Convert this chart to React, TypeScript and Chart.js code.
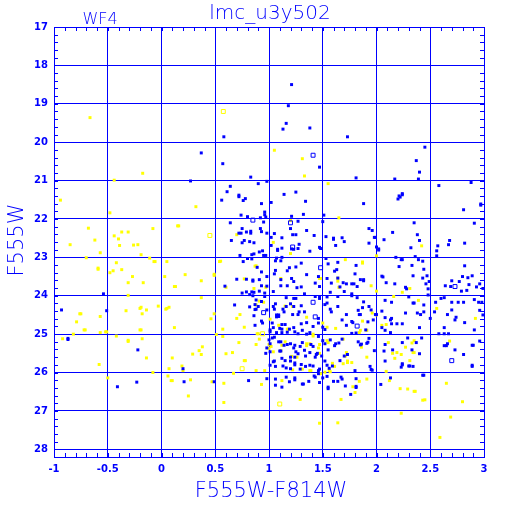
import { useEffect, useRef } from 'react';
import { Chart, registerables } from 'chart.js';

Chart.register(...registerables);

const X_MIN = -1;
const X_MAX = 3;
const Y_MIN = 17;
const Y_MAX = 28.2;
const X_TICKS = [-1, -0.5, 0, 0.5, 1, 1.5, 2, 2.5, 3];
const X_TICK_LABELS = ['-1', '-0.5', '0', '0.5', '1', '1.5', '2', '2.5', '3'];
const Y_TICKS = [17, 18, 19, 20, 21, 22, 23, 24, 25, 26, 27, 28];
const Y_TICK_LABELS = ['17', '18', '19', '20', '21', '22', '23', '24', '25', '26', '27', '28'];
const X_MINOR_STEP = 0.1;
const Y_MINOR_STEP = 0.2;
const TITLE = 'lmc_u3y502';
const CHIP = 'WF4';
const X_TITLE = 'F555W-F814W';
const Y_TITLE = 'F555W';

const bluePoints: [number, number][] = [
  [1.21, 18.5], [1.18, 19.05], [1.16, 19.51], [1.13, 19.66], [1.38, 19.63], [0.58, 19.86], [1.73, 19.86], [0.37, 20.28],
  [0.57, 20.56], [1.47, 20.65], [2.45, 20.13], [2.37, 20.48], [2.4, 20.78], [2.39, 20.96], [2.17, 20.96], [1.81, 20.93],
  [0.83, 20.91], [0.27, 21.01],
  [0.64, 21.15], [0.9, 21.08], [0.98, 21.02], [0.61, 21.29], [0.72, 21.38], [0.72, 21.42], [0.78, 21.47], [0.76, 21.52],
  [0.56, 21.51], [0.93, 21.6], [1.02, 21.57], [1.14, 21.36], [1.25, 21.3], [1.34, 21.54], [0.96, 21.82], [0.96, 21.89],
  [0.97, 21.95], [0.92, 21.97], [0.74, 21.9], [0.8, 21.94], [0.64, 22.1], [0.95, 22.08], [1.21, 21.93], [1.27, 22.06],
  [1.32, 21.88], [1.51, 21.9], [1.5, 22.07], [0.75, 22.25], [0.72, 22.37], [0.74, 22.37], [0.79, 22.34], [0.83, 22.32],
  [0.83, 22.37], [0.92, 22.25], [0.93, 22.33], [0.98, 22.37], [0.65, 22.56], [0.77, 22.56], [0.75, 22.62], [0.82, 22.59],
  [0.86, 22.62], [1.05, 22.38], [1.12, 22.49], [1.2, 22.25], [1.25, 22.41], [1.22, 22.41], [1.35, 22.3], [1.42, 22.43],
  [1.53, 22.46], [1.6, 22.5], [1.6, 22.53], [1.7, 22.59], [1.68, 22.49], [1.62, 22.69], [1.47, 22.74], [1.48, 22.77],
  [1.38, 22.84], [1.28, 22.66], [1.27, 22.77], [1.21, 22.78], [1.23, 22.79], [1.12, 22.76], [1.08, 22.79], [1.08, 22.82],
  [1.02, 22.48], [1.02, 22.69], [0.91, 22.86], [0.94, 22.83], [0.84, 22.93], [0.86, 22.91], [0.95, 22.95], [0.97, 22.95],
  [0.73, 22.95], [0.8, 23.03], [0.76, 23.11], [0.84, 23.04], [1.06, 23.09], [1.11, 23.09], [1.07, 23.02], [1.12, 23.0],
  [1.19, 23.27], [1.25, 23.25], [1.3, 23.15], [1.06, 23.34], [1.17, 23.35], [0.89, 23.26], [0.93, 23.38], [0.98, 23.5],
  [0.7, 23.57], [0.79, 23.57], [0.85, 23.59], [0.85, 23.62], [0.91, 23.58], [0.93, 23.74], [0.98, 23.75], [1.05, 23.43],
  [1.11, 23.58], [1.11, 23.74], [1.17, 23.74], [1.21, 23.55], [1.26, 23.79], [1.3, 23.77], [1.23, 23.63], [1.35, 23.45],
  [1.43, 23.67], [1.46, 23.5], [1.47, 23.76], [1.53, 23.03], [1.55, 23.17], [1.64, 23.13], [1.61, 23.36], [1.63, 23.32],
  [1.54, 23.55], [1.64, 23.54], [1.58, 23.67], [1.69, 23.66], [1.72, 23.69], [1.66, 23.77], [0.59, 23.75],
  [1.88, 21.6], [2.21, 21.4], [2.22, 21.43], [2.24, 21.34], [2.24, 21.37], [2.2, 21.48], [2.58, 21.13], [2.88, 21.05],
  [2.97, 21.61], [2.97, 21.64], [2.81, 21.76], [2.91, 22.11], [2.35, 22.1], [2.15, 22.35], [1.93, 22.25], [1.96, 22.3],
  [1.98, 22.48], [1.99, 22.48], [1.93, 22.63], [2.07, 22.54], [2.38, 22.41], [2.4, 22.56], [2.32, 22.75], [2.57, 22.7],
  [2.56, 22.83], [2.56, 22.96], [2.68, 22.56], [2.67, 22.67], [2.82, 22.63], [2.0, 22.73], [2.02, 22.78], [2.02, 22.81],
  [2.18, 23.0], [2.23, 23.06], [2.24, 23.06], [2.36, 22.98], [2.39, 23.06], [2.43, 23.1], [2.33, 23.21], [2.21, 23.24],
  [2.44, 23.31], [2.34, 23.48], [2.47, 23.48], [2.43, 23.54], [2.49, 23.63], [2.46, 23.69], [2.48, 23.82], [2.09, 23.66],
  [2.05, 23.49], [2.06, 23.51], [2.17, 23.69], [2.27, 23.78], [2.28, 23.82], [1.85, 23.58], [1.88, 23.58], [1.88, 23.61],
  [1.81, 23.21], [1.8, 23.43], [1.77, 23.69], [1.79, 23.69], [1.82, 23.76], [2.82, 23.22], [2.89, 23.48], [2.85, 23.53],
  [2.8, 23.5], [2.77, 23.63], [2.7, 23.61], [2.64, 23.74], [2.69, 23.76], [2.86, 23.71], [2.93, 23.77], [2.96, 23.69],
  [2.99, 23.81],
  [0.75, 23.93], [0.79, 23.9], [0.82, 23.97], [0.84, 23.9], [0.85, 24.0], [0.86, 23.91], [0.91, 23.88], [0.96, 23.93],
  [0.96, 24.02], [1.04, 23.89], [1.16, 24.05], [1.23, 24.07], [1.25, 24.07], [1.33, 23.95], [1.43, 24.02], [1.47, 24.02],
  [1.47, 24.07], [1.54, 24.03], [1.57, 23.91], [1.64, 24.02], [1.7, 23.89],
  [0.68, 24.24], [0.82, 24.29], [0.87, 24.23], [0.88, 24.11], [0.88, 24.35], [0.87, 24.36], [0.9, 24.28], [0.93, 24.15],
  [0.98, 24.37], [1.04, 24.28], [1.05, 24.35], [1.06, 24.21], [1.07, 24.5], [1.09, 24.5], [1.07, 24.55], [1.09, 24.54],
  [1.13, 24.35], [1.14, 24.42], [1.16, 24.28], [1.2, 24.21], [1.23, 24.28], [1.22, 24.49], [1.27, 24.49], [1.28, 24.42],
  [1.3, 24.26], [1.33, 24.42], [1.46, 24.59], [1.52, 24.23], [1.54, 24.19], [1.57, 24.35], [1.58, 24.42], [1.64, 24.28],
  [1.68, 24.63], [1.72, 24.77], [1.72, 24.49], [1.46, 24.71], [1.5, 24.82], [1.52, 24.88], [1.41, 24.8], [1.35, 24.7],
  [1.3, 24.73], [1.23, 24.83], [1.19, 24.87], [1.15, 24.75], [1.12, 24.75], [1.1, 24.85], [1.12, 24.87], [1.03, 24.71],
  [0.93, 24.66], [0.94, 24.71], [0.87, 24.77], [0.86, 24.52], [1.01, 24.89], [1.01, 24.94], [1.04, 24.83], [1.07, 24.96],
  [1.12, 24.96], [1.17, 24.95], [1.24, 24.94], [1.27, 24.99], [1.31, 24.9], [1.35, 25.0], [1.38, 24.96],
  [1.0, 25.15], [1.01, 25.25], [0.98, 25.36], [0.97, 25.5], [1.01, 25.46], [1.05, 25.08], [1.03, 25.1], [1.09, 25.2],
  [1.11, 25.2], [1.14, 25.29], [1.1, 25.44], [1.11, 25.44], [1.17, 25.27], [1.2, 25.25], [1.23, 25.36], [1.24, 25.29],
  [1.29, 25.32], [1.31, 25.22], [1.25, 25.46], [1.27, 25.51], [1.24, 25.6], [1.2, 25.6], [1.2, 25.7], [1.12, 25.63],
  [1.15, 25.69], [1.05, 25.7], [1.04, 25.72], [1.01, 25.81], [1.06, 25.84], [1.13, 25.83], [1.16, 25.88], [1.2, 25.9],
  [1.24, 25.8], [1.24, 25.75], [1.3, 25.79], [1.29, 25.91], [1.34, 25.84], [1.38, 25.81], [1.41, 25.83], [1.34, 25.57],
  [1.38, 25.48], [1.33, 25.42], [1.43, 25.6], [1.44, 25.53], [1.45, 25.5], [1.49, 25.57], [1.39, 25.27], [1.41, 25.32],
  [1.46, 25.06], [1.5, 25.17], [1.52, 25.25], [1.57, 25.15], [1.55, 25.41], [1.61, 25.3], [1.62, 25.25], [1.65, 25.23],
  [1.68, 25.13], [1.7, 25.57], [1.73, 25.53], [1.66, 25.69], [1.52, 25.7], [1.54, 25.81], [1.56, 25.89], [1.47, 25.91],
  [1.46, 25.95], [1.59, 25.83],
  [0.81, 26.21], [0.98, 26.16], [1.06, 26.17], [1.06, 26.33], [1.12, 26.38], [1.16, 26.12], [1.19, 26.24], [1.24, 26.14],
  [1.24, 26.19], [1.31, 26.3], [1.32, 26.3], [1.37, 26.23], [1.42, 26.09], [1.43, 26.12], [1.46, 26.03], [1.5, 26.14],
  [1.47, 26.26], [1.54, 26.1], [1.55, 26.38], [1.55, 26.42], [1.6, 26.23], [1.64, 26.23], [1.67, 26.12], [1.68, 26.17],
  [1.71, 26.35],
  [1.82, 24.05], [1.77, 24.0], [1.88, 24.16], [1.93, 24.28], [1.95, 24.37], [1.87, 24.31], [1.83, 24.38], [1.84, 24.49],
  [1.85, 24.49], [1.77, 24.67], [1.78, 24.7], [1.77, 24.98], [1.81, 24.97], [1.9, 24.89], [1.92, 24.68], [1.97, 24.63],
  [1.99, 24.49], [2.0, 24.49], [2.05, 24.4], [2.08, 24.12], [2.14, 24.17], [2.3, 24.03], [2.48, 23.98], [2.34, 24.19],
  [2.35, 24.19], [2.44, 24.24], [2.38, 24.45], [2.41, 24.49], [2.44, 24.42], [2.5, 24.59], [2.55, 24.17], [2.54, 24.42],
  [2.6, 24.07], [2.63, 24.05], [2.7, 24.17], [2.76, 24.17], [2.81, 24.17], [2.66, 24.49], [2.7, 24.37], [2.74, 24.56],
  [2.73, 24.63], [2.82, 24.7], [2.91, 24.1], [2.95, 24.17], [2.98, 24.17], [2.96, 24.38], [2.99, 24.5], [2.91, 24.89],
  [2.63, 24.83], [2.58, 24.99], [2.63, 24.99], [2.67, 24.99], [2.08, 24.57], [2.14, 24.59], [2.13, 24.63], [2.14, 24.73],
  [2.08, 24.9], [2.13, 24.96], [2.05, 24.83], [2.19, 24.73], [2.24, 24.73], [2.27, 24.45], [2.4, 24.83], [1.77, 23.95],
  [2.79, 23.88], [2.84, 23.86],
  [1.91, 25.24], [1.92, 25.21], [1.86, 25.26], [1.85, 25.28], [1.83, 25.2], [1.93, 25.11], [1.98, 25.43], [2.08, 25.27],
  [2.07, 25.44], [2.15, 25.41], [2.24, 25.22], [2.29, 25.1], [2.33, 25.41], [2.37, 25.22], [2.42, 25.1], [2.4, 25.51],
  [2.31, 25.83], [2.34, 25.84], [2.3, 25.83], [2.24, 25.77], [2.24, 25.8], [2.23, 25.86], [2.08, 25.7], [1.94, 25.84],
  [1.95, 25.92], [1.96, 25.94], [1.8, 25.95], [2.63, 25.3], [2.65, 25.3], [2.66, 25.25], [2.73, 25.41], [2.81, 25.53],
  [2.89, 25.29], [2.9, 25.29], [2.96, 25.18], [2.89, 25.81], [2.89, 25.84], [2.43, 26.07], [2.44, 26.07], [2.13, 26.14],
  [2.04, 26.31], [1.81, 26.16], [1.81, 26.36], [1.81, 26.39], [1.76, 26.57],
  [-0.54, 23.95], [-0.93, 24.37], [-0.51, 24.39], [-0.87, 25.11], [-0.87, 25.14], [-0.22, 25.41], [0.2, 25.9],
  [-0.23, 26.25], [0.21, 26.24], [-0.41, 26.37], [0.49, 26.24],
];

const blueHollowPoints: [number, number][] = [
  [1.41, 20.34], [0.85, 22.03], [1.2, 22.1], [1.22, 22.73], [1.48, 23.27], [2.73, 23.76], [0.95, 24.44], [1.41, 24.17],
  [1.43, 24.55], [1.82, 24.79], [2.7, 25.69],
];

const yellowPoints: [number, number][] = [
  [1.05, 20.21], [1.31, 20.43], [1.33, 20.88], [-0.665, 19.36], [-0.175, 20.81], [-0.44, 20.99],
  [-0.94, 21.51], [-0.48, 21.84], [0.32, 21.68], [-0.68, 22.24], [-0.85, 22.67], [-0.62, 22.55], [-0.57, 22.88],
  [-0.44, 22.44], [-0.4, 22.52], [-0.37, 22.34], [-0.31, 22.34], [-0.39, 22.69], [-0.26, 22.68], [-0.22, 22.67],
  [-0.08, 22.25], [-0.19, 22.93], [0.15, 22.18], [0.16, 22.18], [-0.7, 23.01], [-0.42, 23.14], [-0.59, 23.31],
  [-0.59, 23.28], [-0.45, 23.35], [-0.48, 23.4], [-0.37, 23.32], [-0.27, 23.5], [-0.31, 23.66], [-0.17, 23.66],
  [-0.11, 23.02], [-0.07, 23.11], [-0.06, 23.11], [0.05, 23.11], [0.03, 23.5], [0.12, 23.76], [0.13, 23.76],
  [0.22, 23.45], [0.37, 23.61], [0.49, 23.47], [0.49, 23.44], [0.54, 23.11], [-0.31, 23.99], [0.37, 24.05],
  [-0.76, 24.47], [-0.75, 24.47], [-0.79, 24.68], [-0.57, 24.54], [-0.72, 24.89], [-0.71, 24.89], [-0.82, 25.0],
  [-0.92, 25.12], [-0.57, 24.96], [-0.52, 24.94], [-0.51, 24.94], [-0.33, 24.39], [-0.19, 24.3], [-0.2, 24.33],
  [-0.14, 24.37], [-0.18, 24.47], [-0.03, 24.27], [0.05, 24.33], [0.04, 24.35], [0.07, 24.3], [-0.2, 24.89],
  [-0.19, 24.89], [-0.42, 25.05], [-0.31, 25.19], [-0.31, 25.16], [-0.18, 25.12], [0.12, 24.83], [0.49, 24.47],
  [0.46, 24.6], [0.51, 25.01], [0.38, 25.33], [0.35, 25.43], [0.29, 25.52], [0.37, 25.53], [0.1, 25.62],
  [-0.14, 25.62], [-0.58, 25.79], [0.19, 25.83], [0.07, 25.9], [0.2, 25.95], [-0.08, 26.0], [0.06, 26.09],
  [0.09, 26.21], [0.1, 26.21], [0.27, 26.19], [0.47, 26.24], [-0.5, 26.14], [0.25, 26.61],
  [1.55, 21.08], [1.65, 21.97], [0.7, 22.41], [1.04, 22.61], [1.2, 22.9], [1.2, 22.04], [1.71, 23.06], [0.55, 23.1],
  [0.87, 23.23], [0.88, 23.22], [0.77, 23.56], [1.11, 23.55], [1.47, 23.55], [1.48, 23.55], [1.64, 23.54],
  [1.64, 23.62], [0.6, 23.78], [0.86, 23.81], [0.97, 23.78], [1.65, 23.78],
  [2.42, 22.7], [2.0, 22.96], [1.87, 23.12], [1.87, 23.15], [1.95, 23.74], [2.31, 23.81],
  [0.91, 24.14], [0.95, 24.17], [0.88, 24.24], [0.73, 24.49], [0.7, 24.59], [0.77, 24.82], [0.57, 24.87],
  [0.57, 25.06], [0.89, 24.99], [0.9, 24.99], [1.01, 24.61], [1.09, 24.77], [1.17, 24.87], [1.18, 24.87],
  [1.15, 24.27], [1.22, 24.28], [1.35, 24.56], [1.5, 24.71], [1.54, 24.82], [1.62, 24.85], [1.41, 25.0],
  [1.41, 25.05], [1.69, 25.13], [1.72, 25.48], [1.71, 25.57], [1.73, 25.7], [1.73, 25.74], [1.69, 25.77],
  [1.61, 25.84], [1.59, 25.76], [1.56, 25.95], [1.57, 25.98], [1.54, 25.17], [1.55, 25.22], [1.47, 25.27],
  [1.47, 25.5], [1.46, 25.36], [1.35, 25.25], [1.35, 25.3], [1.38, 25.25], [1.26, 25.6], [1.21, 25.58],
  [1.15, 25.2], [1.12, 25.29], [1.11, 25.43], [1.04, 25.46], [1.0, 25.27], [1.0, 25.37], [1.02, 25.32],
  [0.88, 25.27], [0.91, 25.13], [0.72, 25.22], [0.66, 25.48], [0.6, 25.51], [0.77, 25.69], [0.78, 25.69],
  [0.88, 25.95], [0.96, 25.95], [0.67, 26.02], [0.58, 26.28], [0.93, 26.31], [1.12, 26.21], [1.22, 25.93],
  [1.31, 25.91], [1.38, 25.95], [1.39, 25.95], [1.48, 26.03], [1.52, 25.99], [1.29, 26.7], [1.67, 26.7],
  [2.0, 23.88], [2.16, 24.02], [2.24, 23.91], [2.39, 24.12], [2.56, 24.33], [2.92, 24.59], [1.96, 24.45],
  [2.0, 24.5], [1.87, 24.66], [1.91, 24.9], [1.85, 24.9], [1.84, 24.96], [2.05, 24.77], [2.09, 24.75],
  [1.86, 25.34], [2.11, 25.22], [2.19, 25.48], [2.15, 25.5], [2.23, 25.53], [2.27, 25.34], [2.35, 25.17],
  [2.33, 25.23], [2.35, 25.48], [2.34, 25.48], [2.31, 25.69], [2.17, 25.63], [1.91, 25.6], [1.77, 25.74],
  [2.09, 25.97], [2.68, 25.18], [1.91, 26.17], [1.84, 26.23], [2.12, 26.21], [2.22, 26.42], [2.29, 26.43],
  [2.35, 26.49], [2.36, 26.49], [1.78, 26.37], [1.8, 26.52], [2.65, 26.28], [2.45, 26.71],
  [2.23, 27.06], [2.69, 27.16], [2.59, 27.69], [1.47, 27.32], [1.64, 27.31], [0.58, 26.78], [2.8, 26.76],
  [2.43, 26.72],
];

const yellowHollowPoints: [number, number][] = [
  [0.575, 19.2], [0.45, 22.43], [0.94, 24.99], [0.75, 25.9], [1.1, 26.82],
];

const BLUE = '#0000ff';
const YELLOW = '#ffff00';

const toXY = (pts: [number, number][]) => pts.map(([x, y]) => ({ x, y }));

const decor = {
  id: 'decor',
  afterDraw(chart: any) {
    const { ctx, chartArea: a, scales } = chart;
    const xs = scales.x;
    const ys = scales.y;
    ctx.save();
    ctx.strokeStyle = BLUE;
    ctx.lineWidth = 1;
    ctx.beginPath();
    const nx = Math.round((X_MAX - X_MIN) / X_MINOR_STEP);
    for (let i = 0; i <= nx; i++) {
      const v = X_MIN + i * X_MINOR_STEP;
      const px = Math.round(xs.getPixelForValue(v)) + 0.5;
      ctx.moveTo(px, a.bottom);
      ctx.lineTo(px, a.bottom - 4);
      ctx.moveTo(px, a.top);
      ctx.lineTo(px, a.top + 4);
    }
    const ny = Math.round((Y_MAX - Y_MIN) / Y_MINOR_STEP);
    for (let i = 0; i <= ny; i++) {
      const v = Y_MIN + i * Y_MINOR_STEP;
      const py = Math.round(ys.getPixelForValue(v)) + 0.5;
      ctx.moveTo(a.left, py);
      ctx.lineTo(a.left + 4, py);
      ctx.moveTo(a.right, py);
      ctx.lineTo(a.right - 4, py);
    }
    ctx.stroke();
    ctx.strokeRect(Math.round(a.left) + 0.5, Math.round(a.top) + 0.5, Math.round(a.right - a.left), Math.round(a.bottom - a.top));

    ctx.fillStyle = BLUE;
    ctx.textAlign = 'center';
    ctx.textBaseline = 'alphabetic';
    ctx.font = '200 20px "DejaVu Sans", sans-serif';
    ctx.fillText(TITLE, (a.left + a.right) / 2 + 1, 18.5);
    ctx.font = '200 16px "DejaVu Sans", sans-serif';
    ctx.fillText(CHIP, 100, 24);
    ctx.font = '200 21px "DejaVu Sans", sans-serif';
    ctx.fillText(X_TITLE, (a.left + a.right) / 2 + 2, 497);
    ctx.translate(23, 240);
    ctx.rotate(-Math.PI / 2);
    ctx.fillText(Y_TITLE, 0, 0);
    ctx.restore();
  },
};

export default function App() {
  const ref = useRef<HTMLCanvasElement | null>(null);
  useEffect(() => {
    document.body.style.margin = '0';
    const canvas = ref.current;
    if (!canvas) return;
    const tickFont = { family: '"DejaVu Sans", sans-serif', size: 10, weight: 'bold' as const };
    const chart = new Chart(canvas, {
      type: 'scatter',
      data: {
        datasets: [
          {
            data: toXY(blueHollowPoints),
            pointStyle: 'rect',
            pointRadius: 2.8,
            pointBorderWidth: 1,
            pointBorderColor: BLUE,
            pointBackgroundColor: 'rgba(0,0,0,0)',
          },
          {
            data: toXY(bluePoints),
            pointStyle: 'rect',
            pointRadius: 2.1,
            pointBorderWidth: 0,
            pointBackgroundColor: BLUE,
          },
          {
            data: toXY(yellowHollowPoints),
            pointStyle: 'rect',
            pointRadius: 2.8,
            pointBorderWidth: 1,
            pointBorderColor: YELLOW,
            pointBackgroundColor: 'rgba(0,0,0,0)',
          },
          {
            data: toXY(yellowPoints),
            pointStyle: 'rect',
            pointRadius: 2.1,
            pointBorderWidth: 0,
            pointBackgroundColor: YELLOW,
          },
        ],
      },
      options: {
        animation: false,
        responsive: false,
        events: [],
        layout: { padding: { top: 27, right: 28, left: 0, bottom: 0 } },
        plugins: { legend: { display: false }, tooltip: { enabled: false }, title: { display: false } },
        scales: {
          x: {
            type: 'linear',
            min: X_MIN,
            max: X_MAX,
            afterFit: (s: any) => { s.height = 55; },
            afterBuildTicks: (s: any) => { s.ticks = X_TICKS.map((v) => ({ value: v })); },
            ticks: {
              color: BLUE,
              font: tickFont,
              padding: 6,
              maxRotation: 0,
              autoSkip: false,
              callback: (v: any) => X_TICK_LABELS[X_TICKS.indexOf(Number(v))] ?? '',
            },
            grid: { color: BLUE, lineWidth: 1, drawTicks: false },
            border: { display: false },
          },
          y: {
            type: 'linear',
            reverse: true,
            min: Y_MIN,
            max: Y_MAX,
            afterFit: (s: any) => { s.width = 54; },
            afterBuildTicks: (s: any) => { s.ticks = Y_TICKS.map((v) => ({ value: v })); },
            ticks: {
              color: BLUE,
              font: tickFont,
              padding: 6,
              autoSkip: false,
              callback: (v: any) => Y_TICK_LABELS[Y_TICKS.indexOf(Number(v))] ?? '',
            },
            grid: { color: BLUE, lineWidth: 1, drawTicks: false },
            border: { display: false },
          },
        },
      },
      plugins: [decor],
    });
    return () => chart.destroy();
  }, []);
  return (
    <div style={{ width: 512, height: 512, background: '#fff' }}>
      <canvas ref={ref} width={512} height={512} style={{ display: 'block' }} />
    </div>
  );
}
